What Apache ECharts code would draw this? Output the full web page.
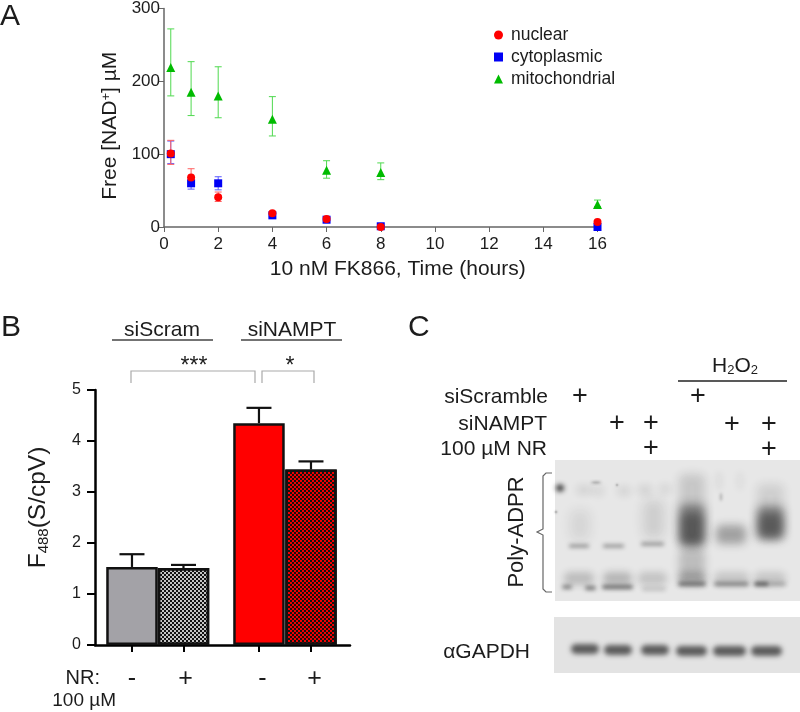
<!DOCTYPE html>
<html><head><meta charset="utf-8">
<style>html,body{margin:0;padding:0;background:#fff}#c{width:800px;height:712px}</style>
<script src="https://cdn.jsdelivr.net/npm/echarts@6/dist/echarts.min.js"></script>
</head><body><div id="c"></div>
<script>
// Panel A
var hours = [0.25, 1, 2, 4, 6, 8, 16];
var nuclearMean = [101, 68, 41, 19, 11, 0, 7];
var nuclearHigh = [119, 80, 48, 21, 13, 1, 9];
var nuclearLow = [86, 60, 35, 17, 9, 0, 5];
var cytoMean = [100, 60, 60, 16, 10, 1, 0];
var cytoHigh = [118, 68, 69, 18, 11, 2, 1];
var cytoLow = [87, 52, 51, 14, 9, 0, 0];
var mitoMean = [219, 185, 180, 148, 78, 75, 31];
var mitoHigh = [272, 227, 220, 179, 91, 88, 37];
var mitoLow = [180, 153, 150, 125, 67, 65, 28];
// Panel B
var barPositions = [1, 2.01, 3.49, 4.51];
var barLabelPositions = [1, 2.05, 3.56, 4.58];
var barLabels = ['-', '+', '-', '+'];
var barMean = [1.53, 1.51, 4.35, 3.44];
var barHigh = [1.78, 1.57, 4.65, 3.6];

var FONT = '"Liberation Sans", Arial, sans-serif';
var INK = '#1c1c1c';

function pairs(xs, ys) { return xs.map(function (x, i) { return [x, ys[i]]; }); }
function errorSeries(high, low, color) {
  return {
    type: 'custom', xAxisIndex: 0, yAxisIndex: 0, silent: true, z: 2,
    data: hours.map(function (h, i) { return [h, low[i], high[i]]; }),
    renderItem: function (p, api) {
      var a = api.coord([api.value(0), api.value(1)]);
      var b = api.coord([api.value(0), api.value(2)]);
      var s = { stroke: color, lineWidth: 1, fill: null };
      return { type: 'group', children: [
        { type: 'line', shape: { x1: a[0], y1: a[1], x2: b[0], y2: b[1] }, style: s },
        { type: 'line', shape: { x1: a[0] - 3.5, y1: a[1], x2: a[0] + 3.5, y2: a[1] }, style: s },
        { type: 'line', shape: { x1: b[0] - 3.5, y1: b[1], x2: b[0] + 3.5, y2: b[1] }, style: s }
      ] };
    }
  };
}

function txt(text, x, y, size, align, extra) {
  var st = { text: text, x: x, y: y, fontSize: size, fontFamily: FONT, fill: INK,
    align: align || 'left', verticalAlign: 'middle' };
  if (extra) for (var k in extra) st[k] = extra[k];
  return { type: 'text', style: st, z: 20 };
}
function line(x1, y1, x2, y2, color, w) {
  return { type: 'line', shape: { x1: x1, y1: y1, x2: x2, y2: y2 }, style: { stroke: color, lineWidth: w }, z: 20 };
}
function poly(points, color, w) {
  return { type: 'polyline', shape: { points: points }, style: { stroke: color, lineWidth: w, fill: null }, z: 20 };
}
// soft blot shapes: only the blurred shadow of an off-canvas shape is visible
var OFF = 3000;
function band(cx, cy, rx, ry, alpha, blur) {
  return { type: 'ellipse', shape: { cx: cx - OFF, cy: cy, rx: rx, ry: ry },
    style: { fill: '#000', shadowColor: 'rgba(40,40,40,' + alpha + ')', shadowBlur: blur, shadowOffsetX: OFF }, z: 12, silent: true };
}
function lane(x0, y0, x1, y1, alpha, blur) {
  return { type: 'rect', shape: { x: x0 - OFF, y: y0, width: x1 - x0, height: y1 - y0, r: Math.min(6, (y1 - y0) / 2) },
    style: { fill: '#000', shadowColor: 'rgba(40,40,40,' + alpha + ')', shadowBlur: blur, shadowOffsetX: OFF }, z: 12, silent: true };
}
function plus(x, y) { return txt('+', x, y, 27, 'center'); }

var blot = [];
blot.push({ type: 'rect', shape: { x: 555, y: 460, width: 245, height: 141 }, style: { fill: '#e7e7e7' }, z: 10 });
blot.push({ type: 'rect', shape: { x: 554, y: 617, width: 246, height: 56 }, style: { fill: '#e3e3e3' }, z: 10 });
// upper faint row
[[584, 490, 7], [598, 491, 5], [624, 491, 6], [645, 490, 7], [665, 489, 5]].forEach(function (b) { blot.push(band(b[0], b[1], b[2], 3.5, 0.16, 8)); });
blot.push(band(560, 488, 4, 3.5, 0.95, 5));
blot.push(band(596, 482.5, 5, 0.5, 0.85, 3));
blot.push(band(617, 485, 1, 1, 0.5, 2));
blot.push(band(556, 512, 1, 1, 0.6, 2));
// faint smears
blot.push(lane(570, 510, 590, 540, 0.09, 12));
blot.push(lane(643, 500, 664, 538, 0.13, 12));
// middle bands
[[569, 589, 546], [603, 624, 546], [641, 664, 544]].forEach(function (b) { blot.push(lane(b[0], b[2] - 1.3, b[1], b[2] + 1.3, 0.6, 4)); });
// lower smears
[[564, 594, 0.22], [603, 632, 0.25], [638, 667, 0.18], [678, 706, 0.3], [714, 749, 0.17], [754, 786, 0.17]].forEach(function (b) {
  blot.push(lane(b[0], 572, b[1], 585, b[2], 7));
});
// lower dark row
[[562, 572, 587, 0.55], [585, 596, 588, 0.6], [602, 633, 587, 0.65], [642, 666, 589, 0.18], [678, 706, 584, 0.6], [714, 749, 584, 0.5], [754, 769, 584, 0.8], [769, 786, 584, 0.3]].forEach(function (b) {
  blot.push(lane(b[0], b[2] - 2, b[1], b[2] + 2, b[3], 4));
});
// H2O2 lanes
blot.push(lane(679, 474, 705, 546, 0.16, 10));
blot.push(lane(679, 548, 705, 578, 0.22, 8));
blot.push(lane(679, 504, 705, 546, 0.48, 10));
blot.push(lane(681, 514, 703, 544, 0.42, 9));
blot.push(lane(716, 472, 722, 490, 0.06, 7));
blot.push(lane(737, 472, 743, 490, 0.05, 7));
blot.push(band(721, 497, 1, 4, 0.35, 3));
blot.push(lane(716, 525, 746, 544, 0.36, 9));
blot.push(lane(757, 484, 784, 538, 0.12, 10));
blot.push(lane(757, 506, 784, 540, 0.48, 10));
blot.push(lane(759, 514, 782, 537, 0.42, 9));
// GAPDH
[[571, 599, 649], [604, 632, 650], [641, 669, 650], [676, 707, 651], [713, 746, 651], [751, 782, 651]].forEach(function (b) {
  blot.push(lane(b[0], b[2] - 5, b[1], b[2] + 5, 0.72, 5));
});

var graphicEls = [
  txt('A', 0, 17, 30), txt('B', 1, 328, 30), txt('C', 408, 328, 30),
  txt('siScram', 162, 330, 21, 'center'), line(112, 340, 213, 340, '#444', 1.3),
  txt('siNAMPT', 292, 330, 21, 'center'), line(241, 340, 342, 340, '#444', 1.3),
  poly([[131, 383], [131, 371], [255, 371], [255, 383]], '#aaaaaa', 1.2),
  poly([[262, 383], [262, 371], [314, 371], [314, 383]], '#aaaaaa', 1.2),
  txt('***', 194, 367, 23, 'center'), txt('*', 290, 367, 23, 'center'),
  txt('NR:', 100, 678, 20, 'right'), txt('100 µM', 116, 701, 19, 'right'),
  txt('siScramble', 548, 397, 21, 'right'), txt('siNAMPT', 547, 424, 21, 'right'),
  txt('100 µM NR', 547, 449, 21, 'right'),
  txt('αGAPDH', 530, 652, 21, 'right'),
  { type: 'text', x: 517, y: 532, rotation: Math.PI / 2,
    style: { text: 'Poly-ADPR', x: 0, y: 0, fontSize: 22, fontFamily: FONT, fill: INK, align: 'center', verticalAlign: 'middle' }, z: 20 },
  { type: 'text', style: { text: 'H{s|2}O{s|2}', x: 735, y: 366, fontSize: 21, fontFamily: FONT, fill: INK, align: 'center', verticalAlign: 'middle',
      rich: { s: { fontSize: 13, fontFamily: FONT, fill: INK, verticalAlign: 'bottom', padding: [8, 0, 0, 0] } } }, z: 20 },
  line(678, 381, 787, 381, '#222', 1.4),
  plus(580, 397), plus(698, 397),
  plus(617, 424), plus(651, 424), plus(732, 425), plus(769, 425),
  plus(651, 449), plus(769, 450),
  poly([[552, 473], [546, 473], [543, 476], [543, 529], [537, 532], [543, 535], [543, 589], [546, 592], [552, 592]], '#666', 1.2)
].concat(blot);

var option = {
  animation: false,
  backgroundColor: '#fff',
  textStyle: { fontFamily: FONT },
  grid: [
    { left: 164, top: 8, width: 433.5, height: 219, containLabel: false },
    { left: 95, top: 390, width: 255, height: 255, containLabel: false }
  ],
  legend: {
    left: 489, top: 21, orient: 'vertical', itemWidth: 9, itemHeight: 9, itemGap: 4,
    textStyle: { fontSize: 17.5, color: INK, fontFamily: FONT, padding: [0, 0, 0, 3] },
    data: ['nuclear', 'cytoplasmic', 'mitochondrial']
  },
  xAxis: [
    { gridIndex: 0, type: 'value', min: 0, max: 16, interval: 2, splitLine: { show: false },
      axisLine: { lineStyle: { color: '#666', width: 1.5 } },
      axisTick: { length: 5, lineStyle: { color: '#666', width: 1 } },
      axisLabel: { fontSize: 17, color: INK, margin: 9, hideOverlap: false },
      name: '10 nM FK866, Time (hours)', nameLocation: 'middle', nameGap: 32,
      nameTextStyle: { fontSize: 21, color: INK, padding: [0, 0, 0, 34] } },
    { gridIndex: 1, type: 'value', min: 0.275, max: 5.275, splitLine: { show: false },
      axisLine: { onZero: false, lineStyle: { color: '#000', width: 2.5 } },
      axisTick: { length: 7, lineStyle: { color: '#000', width: 2 }, customValues: barPositions },
      axisLabel: { show: false } },
    { gridIndex: 1, type: 'value', position: 'bottom', min: 0.275, max: 5.275, splitLine: { show: false },
      axisLine: { show: false, onZero: false }, axisTick: { show: false },
      axisLabel: { show: true, fontSize: 25, color: INK, margin: 22, customValues: barLabelPositions, showMinLabel: true, showMaxLabel: true,
        formatter: function (v) { var i = barLabelPositions.indexOf(v); return i < 0 ? '' : barLabels[i]; } } }
  ],
  yAxis: [
    { gridIndex: 0, type: 'value', min: 0, max: 300, interval: 100, splitLine: { show: false },
      axisLine: { show: true, lineStyle: { color: '#666', width: 1.5 } },
      axisTick: { show: true, length: 5, lineStyle: { color: '#666', width: 1 } },
      axisLabel: { fontSize: 17, color: INK, margin: 4 },
      name: '{a|Free [NAD}{b|+}{a|] µM}', nameLocation: 'middle', nameGap: 41,
      nameTextStyle: { padding: [0, 16, 0, 0], rich: {
        a: { fontSize: 21, color: INK, fontFamily: FONT },
        b: { fontSize: 13, color: INK, fontFamily: FONT, verticalAlign: 'top', padding: [0, 0, 7, 0] } } } },
    { gridIndex: 1, type: 'value', min: 0, max: 5, interval: 1, splitLine: { show: false },
      axisLine: { show: true, lineStyle: { color: '#000', width: 2.5 } },
      axisTick: { show: true, length: 8, lineStyle: { color: '#000', width: 2 } },
      axisLabel: { fontSize: 16, color: INK, margin: 14, padding: [4, 0, 0, 0] },
      name: '{a|F}{b|488}{a|(S/cpV)}', nameLocation: 'middle', nameGap: 44,
      nameTextStyle: { padding: [0, 0, 0, 20], rich: {
        a: { fontSize: 24.5, color: INK, fontFamily: FONT },
        b: { fontSize: 15, color: INK, fontFamily: FONT, verticalAlign: 'bottom', padding: [8, 0, 0, 0] } } } }
  ],
  series: [
    errorSeries(mitoHigh, mitoLow, '#4fd94f'),
    errorSeries(cytoHigh, cytoLow, '#5a5aff'),
    errorSeries(nuclearHigh, nuclearLow, '#ff6060'),
    { name: 'mitochondrial', type: 'scatter', xAxisIndex: 0, yAxisIndex: 0, symbol: 'triangle', symbolSize: 9, z: 3,
      itemStyle: { color: '#00bb00', opacity: 1 }, data: pairs(hours, mitoMean) },
    { name: 'cytoplasmic', type: 'scatter', xAxisIndex: 0, yAxisIndex: 0, symbol: 'rect', symbolSize: 8, z: 4,
      itemStyle: { color: '#0000f5', opacity: 1 }, data: pairs(hours, cytoMean) },
    { name: 'nuclear', type: 'scatter', xAxisIndex: 0, yAxisIndex: 0, symbol: 'circle', symbolSize: 8, z: 5,
      itemStyle: { color: '#ff0000', opacity: 1 }, data: pairs(hours, nuclearMean) },
    { type: 'custom', xAxisIndex: 1, yAxisIndex: 1, silent: true, z: 2,
      data: barPositions.map(function (x, i) { return [x, barMean[i], barHigh[i]]; }),
      renderItem: function (p, api) {
        var a = api.coord([api.value(0), api.value(1)]);
        var b = api.coord([api.value(0), api.value(2)]);
        var s = { stroke: '#111', lineWidth: 2.2, fill: null };
        return { type: 'group', children: [
          { type: 'line', shape: { x1: a[0], y1: a[1], x2: b[0], y2: b[1] }, style: s },
          { type: 'line', shape: { x1: b[0] - 12.5, y1: b[1], x2: b[0] + 12.5, y2: b[1] }, style: s }
        ] };
      } },
    { type: 'bar', xAxisIndex: 1, yAxisIndex: 1, barWidth: 51.5, z: 3, silent: true,
      data: [
        { value: [barPositions[0], barMean[0]], itemStyle: { color: '#a3a2a7' } },
        { value: [barPositions[1], barMean[1]], itemStyle: { color: '#c4c4c4',
          decal: { symbol: 'rect', symbolSize: 1, color: '#111', dashArrayX: [[2, 2], [0, 2, 2, 0]], dashArrayY: [2, 0], rotation: 0 } } },
        { value: [barPositions[2], barMean[2]], itemStyle: { color: '#ff0000' } },
        { value: [barPositions[3], barMean[3]], itemStyle: { color: '#f00000',
          decal: { symbol: 'rect', symbolSize: 1, color: '#111', dashArrayX: [[2, 2], [0, 2, 2, 0]], dashArrayY: [2, 0], rotation: 0 } } }
      ],
      itemStyle: { borderColor: '#111', borderWidth: 2.5 } }
  ],
  graphic: { elements: graphicEls }
};
var chart = echarts.init(document.getElementById('c'), null, { renderer: 'canvas', width: 800, height: 712 });
chart.setOption(option);
</script></body></html>
